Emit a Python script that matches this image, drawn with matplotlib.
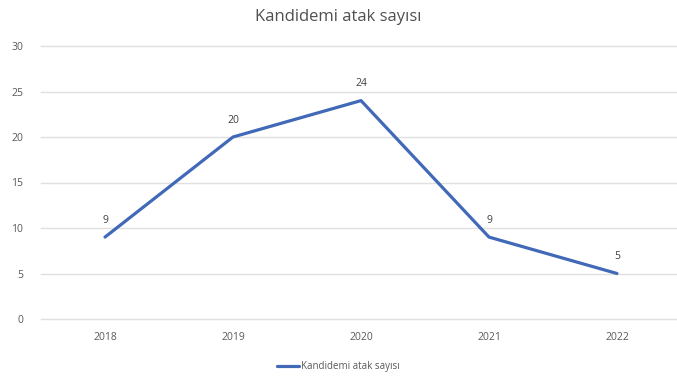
import numpy as np
import matplotlib.pyplot as plt

years = ['2018', '2019', '2020', '2021', '2022']
values = [9, 20, 24, 9, 5]
series_name = 'Kandidemi atak sayısı'

plt.rcParams['font.family'] = ['Open Sans', 'DejaVu Sans']

fig = plt.figure(figsize=(6.77, 3.82), dpi=100)
ax = fig.add_axes([41/677, 63/382, 640/677, 273/382])

x = np.arange(len(years))
ax.plot(x, values, color='#4169B8', linewidth=2.3, label=series_name, solid_capstyle='round')

for xi, v in zip(x, values):
    ax.annotate(str(v), (xi, v), xytext=(0, 8), textcoords='offset points',
                ha='center', va='bottom', fontsize=7.5, color='#404040')

ax.set_xlim(-0.5, 4.5)
ax.set_ylim(0, 30)
ax.set_yticks([0, 5, 10, 15, 20, 25, 30])
ax.set_xticks(x)
ax.set_xticklabels(years)
ax.tick_params(axis='both', length=0, labelsize=7.5, colors='#595959')
ax.tick_params(axis='x', pad=9)
ax.tick_params(axis='y', pad=13)
ax.grid(axis='y', color='#e0e0e0', linewidth=1)
for gl in ax.get_ygridlines():
    gl.set_clip_on(False)
ax.set_axisbelow(True)
for s in ax.spines.values():
    s.set_visible(False)

fig.text(0.5, 0.955, series_name, ha='center', va='center', fontsize=12, color='#505050')

fig.legend(loc='center', bbox_to_anchor=(0.5, 0.04), frameon=False, fontsize=7,
           labelcolor='#595959', handlelength=2.2, handletextpad=0.2)

plt.savefig('out.png', dpi=100)
